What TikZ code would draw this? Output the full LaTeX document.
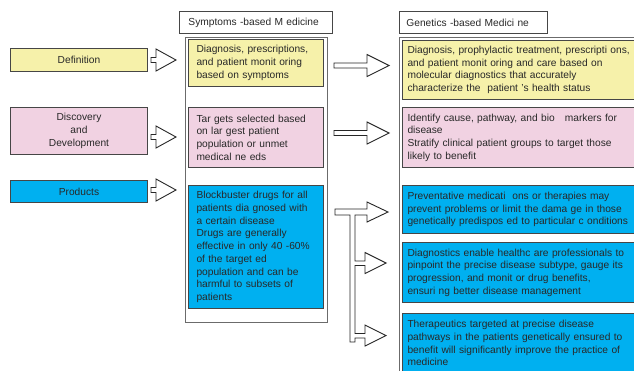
\documentclass[tikz,border=0pt]{standalone}
\usepackage{fontspec}
\setmainfont{Liberation Sans}
\usepackage{xcolor}
\usepackage{tikz}
\usetikzlibrary{positioning}

\definecolor{defyellow}{RGB}{246,241,170}
\definecolor{devpink}{RGB}{241,210,226}
\definecolor{prodblue}{RGB}{0,176,240}
\definecolor{edgegray}{RGB}{70,70,70}
\definecolor{textgray}{RGB}{40,40,40}

\tikzset{
  txt/.style={font=\fontsize{10.2}{12.7}\selectfont, text=textgray},
  catbox/.style={txt, draw=edgegray, line width=1pt, minimum width=137, align=center, inner sep=0pt, anchor=north west},
  hdrbox/.style={txt, draw=edgegray, line width=0.9pt, fill=white, minimum height=22, align=left, anchor=north west},
  infobox/.style={txt, draw=edgegray, line width=1pt, align=left, anchor=north west},
  framebox/.style={draw=edgegray!80, line width=1.1pt, anchor=north west, inner sep=0pt},
  arrowline/.style={draw=black!85, line width=0.9pt, fill=white, line join=miter}
}
\newcommand{\hollowarrow}[5]{\draw[arrowline] (#1) ++(0,-#3) -- ++(#2,0) -- ++(0,#3-#5) -- ++(#4,#5) -- ++(-#4,#5) -- ++(0,#3-#5) -- ++(-#2,0) -- cycle;}

\begin{document}
\begin{tikzpicture}[x=1pt,y=-1pt]
\clip (0,0) rectangle (634,370);
\fill[white] (0,0) rectangle (634,370);

% left column
\node[catbox, fill=defyellow, minimum height=23] (def) at (10,48) {Definition};
\node[catbox, fill=devpink, minimum height=47] (dev) at (10,107) {Discovery\\and\\Development};
\node[catbox, fill=prodblue, minimum height=22] (prod) at (10,180) {Products};

\coordinate (defarr) at (151,60);
\coordinate (devarr) at (151,137);
\coordinate (prodarr) at (151,190);
\hollowarrow{defarr}{5}{2.5}{20}{11}
\hollowarrow{devarr}{5}{2.5}{20}{11}
\hollowarrow{prodarr}{5}{2.5}{20}{11}

% symptoms column
\node[hdrbox, minimum width=153, inner xsep=9, text width=135] (symhdr) at (179,11) {Symptoms -based M edicine};
\node[framebox, minimum width=142, minimum height=285] (symframe) at (185,37) {};
\node[infobox, fill=defyellow, minimum height=47, inner xsep=8, text width=119] (symdef) at (188,39)
  {Diagnosis, prescriptions,\\and patient monit oring\\based on symptoms};
\node[infobox, fill=devpink, minimum height=60, inner xsep=8, text width=119] (symdev) at (188,107)
  {Tar gets selected based\\on lar gest patient\\population or unmet\\medical ne eds};
\node[infobox, fill=prodblue, minimum height=123, inner xsep=8, text width=119] (symprod) at (188,185)
  {Blockbuster drugs for all\\patients dia gnosed with\\a certain disease\\Drugs are generally\\effective in only 40 -60\%\\of the target ed\\population and can be\\harmful to subsets of\\patients};

\coordinate (defbig) at (334,65.5);
\coordinate (devbig) at (334,133);
\hollowarrow{defbig}{33}{2.5}{22}{11}
\hollowarrow{devbig}{33}{2.5}{22}{11}

% branching arrow for products
\draw[arrowline] (335,209) -- (367,209) -- (367,202) -- (388,212) -- (367,222) -- (367,215)
  -- (355,215) -- (355,261) -- (365,261) -- (365,252.5) -- (386,263) -- (365,273.5) -- (365,265.5)
  -- (355,265.5) -- (355,333.5) -- (365,333.5) -- (365,325) -- (386,335.5) -- (365,346) -- (365,338)
  -- (355,338) -- (355,342) -- (350,342) -- (350,215) -- (335,215) -- cycle;

% genetics column
\node[hdrbox, minimum width=148, inner xsep=7, text width=134] (genhdr) at (399,11) {Genetics -based Medici ne};
\node[framebox, minimum width=260, minimum height=360] (genframe) at (399,37) {};
\node[infobox, fill=defyellow, minimum height=59, inner xsep=5, text width=250] (gendef) at (402,40)
  {Diagnosis, prophylactic treatment, prescripti ons,\\and patient monit oring and care based on\\molecular diagnostics that accurately\\characterize the \ patient 's health status};
\node[infobox, fill=devpink, minimum height=60, inner xsep=5, text width=250] (gendev) at (402,107)
  {Identify cause, pathway, and bio \ \ markers for\\disease\\Stratify clinical patient groups to target those\\likely to benefit};
\node[infobox, fill=prodblue, minimum height=48, inner xsep=5, text width=250] (genprev) at (402,185)
  {Preventative medicati \ ons or therapies may\\prevent problems or limit the dama ge in those\\genetically predispos ed to particular c onditions};
\node[infobox, fill=prodblue, minimum height=60, inner xsep=5, text width=250] (gendiag) at (402,242)
  {Diagnostics enable healthc are professionals to\\pinpoint the precise disease subtype, gauge its\\progression, and monit or drug benefits,\\ensuri ng better disease management};
\node[infobox, fill=prodblue, minimum height=59, inner xsep=5, text width=250] (genther) at (402,313)
  {Therapeutics targeted at precise disease\\pathways in the patients genetically ensured to\\benefit will significantly improve the practice of\\medicine};
\end{tikzpicture}
\end{document}
